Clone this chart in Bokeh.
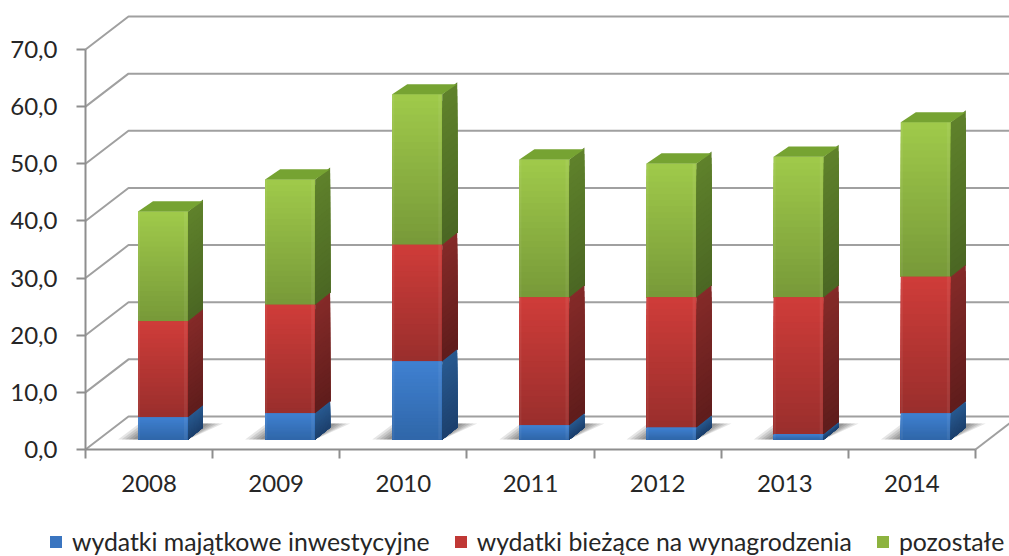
from bokeh.plotting import figure
from bokeh.models import FixedTicker, Legend, LegendItem
from bokeh.embed import file_html
from bokeh.resources import INLINE

years = ["2008", "2009", "2010", "2011", "2012", "2013", "2014"]
inwestycyjne = [3.9, 4.6, 13.7, 2.5, 2.1, 0.9, 4.6]
wynagrodzenia = [16.8, 19.0, 20.4, 22.4, 22.8, 24.0, 23.9]
pozostale = [19.2, 21.9, 26.3, 24.1, 23.4, 24.6, 27.0]
y_ticks = [0, 10, 20, 30, 40, 50, 60, 70]
y_labels = ["0,0", "10,0", "20,0", "30,0", "40,0", "50,0", "60,0", "70,0"]
series_names = ["wydatki majątkowe inwestycyjne", "wydatki bieżące na wynagrodzenia", "pozostałe"]

PX = 1 / 127.14
PY = 10 / 57.14
FONT = "Lato"
TXT = "#262626"
GRID = "#a0a0a0"
AXIS = "#8e8e8e"

styles = [
    dict(front=("#3f80d0", "#2f66a8"), side=("#28598f", "#1c3f6c"), mid="#3a75c0"),
    dict(front=("#ce3c39", "#982e2c"), side=("#842a28", "#5e1c1b"), mid="#c03835"),
    dict(front=("#9fc94a", "#769838"), side=("#5f812b", "#4a6623"), mid="#8db33f"),
]
TOP = "#76a332"

CW, CH = 1009, 556
X0, Y0 = 85, 449
p = figure(width=CW, height=CH, x_range=(-X0 * PX, (CW - X0) * PX), y_range=(-(CH - Y0) * PY, Y0 * PY),
           output_backend="svg", toolbar_location=None,
           min_border_left=0, min_border_right=0, min_border_top=0, min_border_bottom=0)
p.grid.visible = False
p.outline_line_color = None
p.background_fill_color = "white"

# axes
ya = p.yaxis[0]
ya.fixed_location = 0
ya.ticker = FixedTicker(ticks=y_ticks)
ya.major_label_overrides = {t: s for t, s in zip(y_ticks, y_labels)}
ya.bounds = (0, 70)
ya.axis_line_color = AXIS
ya.axis_line_width = 2
ya.major_tick_line_color = AXIS
ya.major_tick_line_width = 2
ya.major_tick_out = 9
ya.major_tick_in = 0
ya.minor_tick_line_color = None
ya.major_label_text_font = FONT
ya.major_label_text_font_size = "24px"
ya.major_label_text_color = TXT
ya.major_label_standoff = 19

centers = [i + 0.5 for i in range(len(years))]
xa = p.xaxis[0]
xa.fixed_location = 0
xa.ticker = FixedTicker(ticks=centers, minor_ticks=list(range(len(years) + 1)))
xa.major_label_overrides = {c: y for c, y in zip(centers, years)}
xa.bounds = (0, len(years))
xa.axis_line_color = AXIS
xa.axis_line_width = 2
xa.major_tick_line_color = None
xa.major_tick_out = 0
xa.major_tick_in = 0
xa.minor_tick_line_color = AXIS
xa.minor_tick_line_width = 2
xa.minor_tick_out = 9
xa.minor_tick_in = 0
xa.major_label_text_font = FONT
xa.major_label_text_font_size = "24px"
xa.major_label_text_color = TXT
xa.major_label_standoff = 16

# walls
DX, DY = 43 * PX, 33 * PY
XEND = (CW - X0) * PX
gx, gy = [], []
for t in y_ticks:
    gx.append([0, DX, XEND])
    gy.append([t, t + DY, t + DY])
gx.append([len(years), len(years) + DX])
gy.append([0, DY])
p.multi_line(gx, gy, line_color=GRID, line_width=2)


def mix(a, b, t):
    ca = [int(a[i:i + 2], 16) for i in (1, 3, 5)]
    cb = [int(b[i:i + 2], 16) for i in (1, 3, 5)]
    return "#%02x%02x%02x" % tuple(round(u + (v - u) * t) for u, v in zip(ca, cb))


BASE = 10 * PY
LEFT = 52.5 * PX
W = 50 * PX
SX, SY = 15 * PX, 12 * PY
STEPS = 22

n = len(years)
lefts = [i + LEFT for i in range(n)]
rights = [l + W for l in lefts]

# floor shadows
for k in (1.0, 0.82, 0.64, 0.46, 0.28):
    xs, ys = [], []
    for l, r in zip(lefts, rights):
        xs.append([l - 20 * k * PX, l, r + SX, r + SX + 20 * k * PX, r])
        ys.append([BASE, BASE + 15 * k * PY, BASE + 16 * PY, BASE + 16 * PY, BASE])
    p.patches(xs, ys, fill_color="#000000", fill_alpha=0.10, line_color=None)

stack = [inwestycyjne, wynagrodzenia, pozostale]
bottoms = [BASE] * n
segments = []
for vals in stack:
    tops = [b + v for b, v in zip(bottoms, vals)]
    segments.append((list(bottoms), tops))
    bottoms = tops

renderers = [None, None, None]
# upper segments first so that the side of a lower one overlaps them
for si in (2, 1, 0):
    bot, top = segments[si]
    st = styles[si]
    # flat bar (also feeds the legend)
    renderers[si] = p.quad(left=lefts, right=rights, bottom=bot, top=top,
                           fill_color=st["mid"], line_color=None)
    # front gradient
    fl, fr, ft, fb, fc = [], [], [], [], []
    for l, r, b, t in zip(lefts, rights, bot, top):
        for s in range(STEPS):
            f = s / STEPS
            fl.append(l); fr.append(r)
            ft.append(t - (t - b) * f); fb.append(b)
            fc.append(mix(st["front"][0], st["front"][1], f))
    p.quad(left=fl, right=fr, top=ft, bottom=fb, fill_color=fc, line_color=None)
    # side gradient
    sxs, sys, sc = [], [], []
    for r, b, t in zip(rights, bot, top):
        for s in range(STEPS):
            f = s / STEPS
            yt = t - (t - b) * f
            sxs.append([r, r + SX, r + SX, r])
            sys.append([b, b + SY, yt + SY, yt])
            sc.append(mix(st["side"][0], st["side"][1], f))
    p.patches(sxs, sys, fill_color=sc, line_color=None)
    # soft bevel on the vertical edges of the front
    p.quad(left=[r - 4 * PX for r in rights], right=[r - 1 * PX for r in rights], bottom=bot, top=top,
           fill_color="#ffffff", fill_alpha=0.06, line_color=None)
    p.quad(left=[l for l in lefts], right=[l + 2 * PX for l in lefts], bottom=bot, top=top,
           fill_color="#ffffff", fill_alpha=0.06, line_color=None)

# top faces
tx, ty = [], []
for l, r, t in zip(lefts, rights, segments[2][1]):
    tx.append([l, l + SX, r + SX, r])
    ty.append([t, t + SY * 0.85, t + SY * 0.85, t])
p.patches(tx, ty, fill_color=TOP, line_color=None)

legend = Legend(
    items=[LegendItem(label=series_names[i], renderers=[renderers[i]]) for i in range(3)],
    orientation="horizontal", location=(48, 0), border_line_color=None,
    background_fill_alpha=0, margin=0, padding=0, spacing=23,
    glyph_width=15, glyph_height=15, label_standoff=9,
    label_text_font=FONT, label_text_font_size="24.8px", label_text_color=TXT,
)
p.add_layout(legend, "center")

open("out.html", "w").write(file_html(p, INLINE))
